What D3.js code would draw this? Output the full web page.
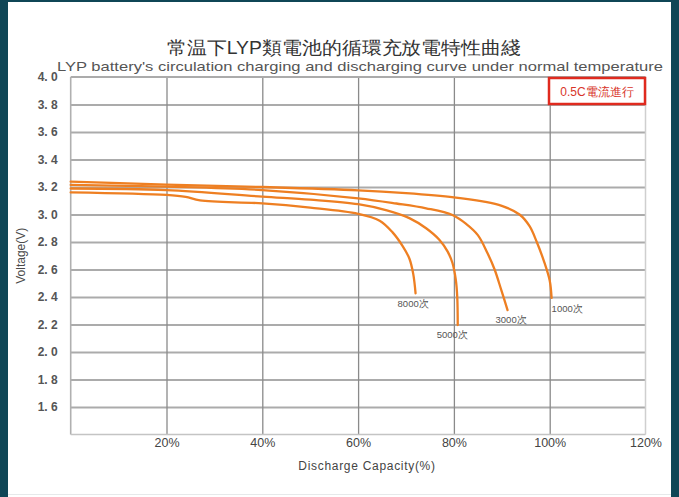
<!DOCTYPE html>
<html><head><meta charset="utf-8">
<script src="https://cdn.jsdelivr.net/npm/d3@7"></script>
<style>
html,body{margin:0;padding:0;background:#fff;}
svg{display:block;}
text{font-family:"Liberation Sans",Arial,sans-serif;}
</style></head>
<body>
<svg id="chart" width="679" height="497"></svg>
<script>
// ---- data ----
const xTicks = [20, 40, 60, 80, 100, 120];
const yTicks = [1.6, 1.8, 2.0, 2.2, 2.4, 2.6, 2.8, 3.0, 3.2, 3.4, 3.6, 3.8, 4.0];
const seriesNames = ["1000次", "3000次", "5000次", "8000次"];
const cap1000 = [0, 20, 40, 60, 70, 80, 86, 90, 93.7, 95.8, 97.3, 98.9, 100.0, 100.4];
const volt1000 = [3.239, 3.218, 3.200, 3.176, 3.155, 3.125, 3.095, 3.063, 3.000, 2.915, 2.800, 2.650, 2.520, 2.393];
const cap3000 = [0, 20, 40, 60, 68, 74.2, 79.7, 82.6, 85, 87, 88.5, 89.9, 91.2];
const volt3000 = [3.215, 3.202, 3.178, 3.118, 3.080, 3.045, 2.996, 2.930, 2.850, 2.720, 2.600, 2.450, 2.305];
const cap5000 = [0, 20, 40, 50, 60, 66, 70.8, 74.2, 77.0, 78.7, 79.7, 80.4, 80.7, 80.8];
const volt5000 = [3.189, 3.178, 3.130, 3.108, 3.075, 3.030, 2.972, 2.900, 2.815, 2.730, 2.647, 2.524, 2.400, 2.196];
const cap8000 = [0, 20, 24, 27, 40, 50, 60, 64.5, 67.2, 69.3, 70.7, 71.5, 72.0];
const volt8000 = [3.161, 3.142, 3.128, 3.102, 3.081, 3.050, 3.005, 2.955, 2.870, 2.770, 2.680, 2.570, 2.427];
const titleCN = "常温下LYP類電池的循環充放電特性曲綫";
const titleEN = "LYP battery's circulation charging and discharging curve under normal temperature";
const noteText = "0.5C電流進行";
const xLabel = "Discharge Capacity(%)";
const yLabel = "Voltage(V)";

// ---- layout / style ----
const svg = d3.select("#chart");
const W = 679, H = 497;
const x = d3.scaleLinear().domain([0, 120]).range([70.7, 645.5]);
const y = d3.scaleLinear().domain([1.4, 4.0]).range([434.5, 77]);
const orange = "#ee7f22";
const labelOffsets = [[0, 14], [-12, 13], [-21, 13], [-18, 14]];

// frame
svg.append("rect").attr("x", 0).attr("y", 0).attr("width", W).attr("height", H).attr("fill", "#fff");
svg.append("rect").attr("x", 0).attr("y", 0).attr("width", 8).attr("height", H).attr("fill", "#0f4656");
svg.append("rect").attr("x", 671).attr("y", 0).attr("width", 8).attr("height", H).attr("fill", "#0f4656");
svg.append("rect").attr("x", 0).attr("y", 0).attr("width", W).attr("height", 2).attr("fill", "#0f4656");
svg.append("rect").attr("x", 8).attr("y", 494).attr("width", 663).attr("height", 1).attr("fill", "#e6e9ea");

// titles
svg.append("text").attr("x", 344).attr("y", 54).attr("text-anchor", "middle")
  .attr("font-size", 17.5).attr("fill", "#333").attr("font-family", "'Noto Sans CJK TC','Noto Sans CJK SC',sans-serif")
  .attr("textLength", 354).attr("lengthAdjust", "spacingAndGlyphs").text(titleCN);
svg.append("text").attr("x", 57).attr("y", 71)
  .attr("font-size", 13.5).attr("fill", "#555")
  .attr("textLength", 606).attr("lengthAdjust", "spacingAndGlyphs").text(titleEN);

// horizontal gridlines
const gH = svg.append("g").attr("transform", `translate(${x(0)},0)`)
  .call(d3.axisLeft(y).tickValues(yTicks.filter(v => v < 4.0)).tickSize(-(x(120) - x(0))).tickFormat(""));
gH.select(".domain").remove();
gH.selectAll("line").attr("stroke", "#ababab").attr("stroke-width", 1.8);

// vertical gridlines
const gV = svg.append("g").attr("transform", `translate(0,${y(1.4)})`)
  .call(d3.axisBottom(x).tickValues(xTicks.filter(v => v < 120)).tickSize(-(y(1.4) - y(4.0))).tickFormat(""));
gV.select(".domain").remove();
gV.selectAll("line").attr("stroke", "#8a8a8a").attr("stroke-width", 1.3);

// border
svg.append("line").attr("x1", x(0)).attr("x2", x(120)).attr("y1", y(4.0)).attr("y2", y(4.0)).attr("stroke", "#ababab").attr("stroke-width", 1.8);
svg.append("line").attr("x1", x(120)).attr("x2", x(120)).attr("y1", y(4.0)).attr("y2", y(1.4)).attr("stroke", "#cfcfcf").attr("stroke-width", 1.5);
svg.append("line").attr("x1", x(0)).attr("x2", x(0)).attr("y1", y(4.0)).attr("y2", y(1.4)).attr("stroke", "#b0b0b0").attr("stroke-width", 1.6);
svg.append("line").attr("x1", x(0)).attr("x2", x(120)).attr("y1", y(1.4)).attr("y2", y(1.4)).attr("stroke", "#c4c4c4").attr("stroke-width", 1.6);

// y tick labels
const gY = svg.append("g").attr("transform", `translate(${x(0)},0)`)
  .call(d3.axisLeft(y).tickValues(yTicks).tickSize(0).tickPadding(13)
    .tickFormat(v => d3.format(".1f")(v).replace(".", ". ")));
gY.select(".domain").remove();
gY.selectAll("text").attr("font-size", 12).attr("font-weight", "bold").attr("fill", "#555")
  .attr("font-family", "'Liberation Sans',Arial,sans-serif");

// x tick labels
const gX = svg.append("g").attr("transform", `translate(0,${y(1.4)})`)
  .call(d3.axisBottom(x).tickValues(xTicks).tickSize(0).tickPadding(4).tickFormat(v => v + "%"));
gX.select(".domain").remove();
gX.selectAll("text").attr("font-size", 12.5).attr("fill", "#444")
  .attr("font-family", "'Liberation Sans',Arial,sans-serif");

// axis titles
svg.append("text").attr("x", 367).attr("y", 470).attr("text-anchor", "middle")
  .attr("font-size", 12).attr("fill", "#444").attr("letter-spacing", 0.7).text(xLabel);
svg.append("text").attr("transform", `translate(25,${y(2.7)}) rotate(-90)`).attr("text-anchor", "middle")
  .attr("font-size", 12).attr("fill", "#4a4a4a").text(yLabel);

// note box
svg.append("rect").attr("x", 549).attr("y", 78).attr("width", 96).attr("height", 26)
  .attr("fill", "#fff").attr("stroke", "#e02a1e").attr("stroke-width", 2.5);
svg.append("text").attr("x", 597).attr("y", 96).attr("text-anchor", "middle")
  .attr("font-size", 12).attr("fill", "#d8352a").attr("font-family", "'Noto Sans CJK TC','Liberation Sans',sans-serif")
  .text(noteText);

// curves
const caps = [cap1000, cap3000, cap5000, cap8000];
const volts = [volt1000, volt3000, volt5000, volt8000];
const line = d3.line().x(d => x(d[0])).y(d => y(d[1])).curve(d3.curveCatmullRom.alpha(0.5));
seriesNames.forEach((name, i) => {
  const pts = caps[i].map((c, j) => [c, volts[i][j]]);
  svg.append("path").datum(pts).attr("d", line).attr("fill", "none")
    .attr("stroke", orange).attr("stroke-width", 2.3).attr("stroke-linecap", "round");
  const end = pts[pts.length - 1];
  svg.append("text").attr("x", x(end[0]) + labelOffsets[i][0]).attr("y", y(end[1]) + labelOffsets[i][1])
    .attr("font-size", 9.5).attr("fill", "#555").attr("font-family", "'Liberation Sans','Noto Sans CJK TC',sans-serif")
    .text(name);
});
</script>
</body></html>
